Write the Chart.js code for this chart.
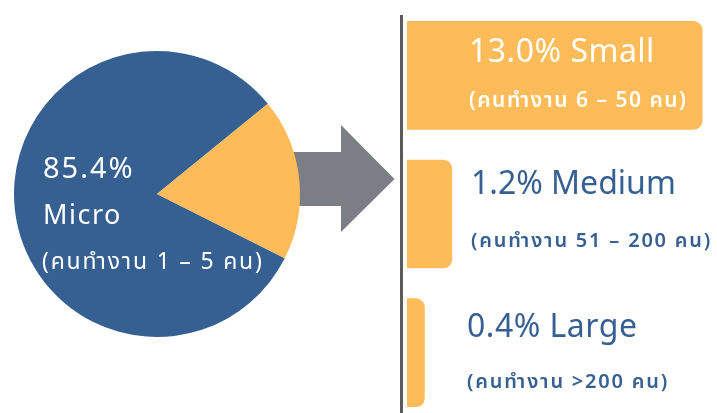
<!DOCTYPE html>
<html>
<head>
<meta charset="utf-8">
<script src="https://cdn.jsdelivr.net/npm/chart.js@4.4.0/dist/chart.umd.min.js"></script>
<style>
  html, body { margin: 0; padding: 0; background: #fff; overflow: hidden; }
  body { width: 717px; height: 413px; position: relative; font-family: "Noto Sans", "Noto Sans Thai", sans-serif; }
  .box { position: absolute; }
  .lbl { position: absolute; line-height: 1; white-space: nowrap; z-index: 5; }
  .w { color: #fff; }
  .b { color: #376092; }
</style>
</head>
<body>
<div class="box" style="left:0;top:0;width:717px;height:413px;"><canvas id="pie"></canvas></div>
<div class="box" style="left:400px;top:6px;width:317px;height:416px;"><canvas id="bars"></canvas></div>

<div class="lbl w" id="microPct" style="left:43px;top:152px;font-size:29px;letter-spacing:2px;"></div>
<div class="lbl w" id="microName" style="left:43px;top:200px;font-size:27px;letter-spacing:1.5px;"></div>
<div class="lbl w" id="microNote" style="left:42px;top:249px;font-size:23px;letter-spacing:1.8px;"></div>

<div class="lbl w" id="lbl0" style="left:469px;top:34px;font-size:32px;letter-spacing:0.5px;"></div>
<div class="lbl w" id="note0" style="left:469px;top:89px;font-size:21px;font-weight:600;letter-spacing:1.5px;"></div>
<div class="lbl b" id="lbl1" style="left:471px;top:166px;font-size:32px;"></div>
<div class="lbl b" id="note1" style="left:471px;top:230px;font-size:20px;font-weight:600;letter-spacing:1.8px;"></div>
<div class="lbl b" id="lbl2" style="left:467px;top:309px;font-size:32px;letter-spacing:0.5px;"></div>
<div class="lbl b" id="note2" style="left:467px;top:371px;font-size:20px;font-weight:600;letter-spacing:1.8px;"></div>

<script>
// pie: Micro vs the rest (slice sizes as drawn)
const pieLabels = ["Micro", "อื่น ๆ"];
const pieShares = [81.7, 18.3];
const pieColors = ["#376092", "#FDBB59"];

// right side breakdown
const sizeNames = ["Small", "Medium", "Large"];
const sizePct = ["13.0%", "1.2%", "0.4%"];
const sizeNotes = ["(คนทำงาน 6 – 50 คน)", "(คนทำงาน 51 – 200 คน)", "(คนทำงาน >200 คน)"];
const barLength = [100, 15.2, 5.9]; // drawn length, Small = 100

const microPct = "85.4%";
const microNote = "(คนทำงาน 1 – 5 คน)";

document.getElementById("microPct").textContent = microPct;
document.getElementById("microName").textContent = pieLabels[0];
document.getElementById("microNote").textContent = microNote;
for (let i = 0; i < sizeNames.length; i++) {
  document.getElementById("lbl" + i).textContent = sizePct[i] + " " + sizeNames[i];
  document.getElementById("note" + i).textContent = sizeNotes[i];
}

// grey arrow behind the pie
const arrowPlugin = {
  id: "arrow",
  beforeDatasetsDraw(chart) {
    const c = chart.ctx;
    c.save();
    c.fillStyle = "#7B7E85";
    c.beginPath();
    c.moveTo(250, 152);
    c.lineTo(341, 152);
    c.lineTo(341, 125);
    c.lineTo(394.5, 179);
    c.lineTo(341, 232);
    c.lineTo(341, 206);
    c.lineTo(250, 206);
    c.closePath();
    c.fill();
    c.restore();
  }
};

new Chart(document.getElementById("pie"), {
  type: "pie",
  data: {
    labels: pieLabels,
    datasets: [{ data: pieShares, backgroundColor: pieColors, borderWidth: 0 }]
  },
  options: {
    responsive: true,
    maintainAspectRatio: false,
    animation: false,
    rotation: 116.7,
    layout: { padding: { left: 14, right: 417, top: 51, bottom: 76 } },
    plugins: { legend: { display: false }, tooltip: { enabled: false } }
  },
  plugins: [arrowPlugin]
});

// dark vertical divider
const dividerPlugin = {
  id: "divider",
  beforeDatasetsDraw(chart) {
    const c = chart.ctx;
    c.save();
    c.strokeStyle = "#5B5B5B";
    c.lineWidth = 3;
    c.beginPath();
    c.moveTo(chart.chartArea.left - 5.5, 9);
    c.lineTo(chart.chartArea.left - 5.5, chart.height);
    c.stroke();
    c.restore();
  }
};

new Chart(document.getElementById("bars"), {
  type: "bar",
  data: {
    labels: sizeNames,
    datasets: [{
      data: barLength,
      backgroundColor: "#FDBB59",
      barThickness: 108,
      borderSkipped: "left",
      borderRadius: { topLeft: 0, bottomLeft: 0, topRight: 9, bottomRight: 9 }
    }]
  },
  options: {
    indexAxis: "y",
    responsive: true,
    maintainAspectRatio: false,
    animation: false,
    layout: { padding: { left: 7, right: 0, top: 0, bottom: 0 } },
    scales: {
      x: { display: false, min: 0, max: 105 },
      y: { display: false }
    },
    plugins: { legend: { display: false }, tooltip: { enabled: false } }
  },
  plugins: [dividerPlugin]
});
</script>
</body>
</html>
